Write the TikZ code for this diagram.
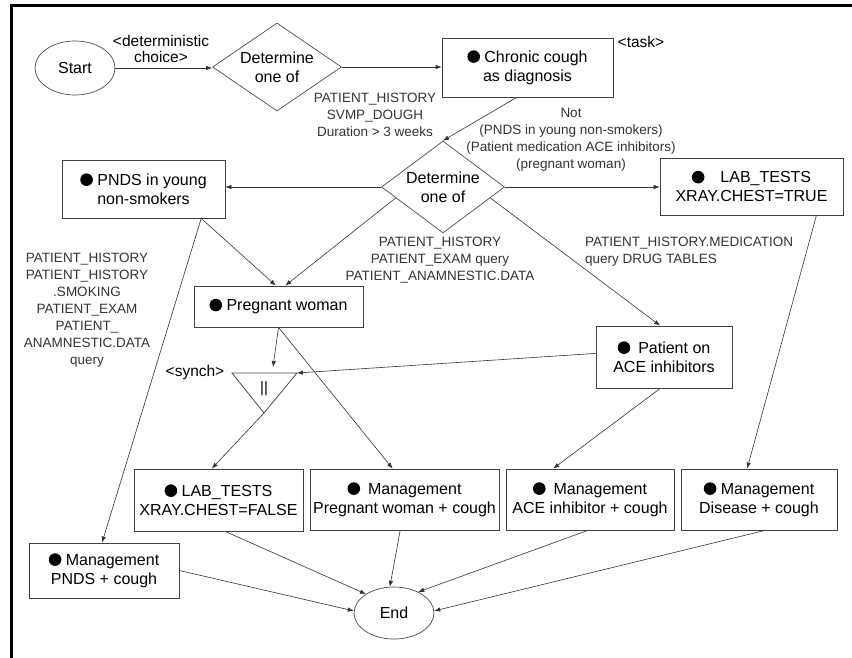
\documentclass[tikz,border=0pt]{standalone}
\usepackage{fontspec}
\setmainfont{Liberation Sans}
\usetikzlibrary{shapes.geometric,arrows.meta}

\newcommand\mainsize{\fontsize{16}{19}\selectfont}
\newcommand\condsize{\fontsize{13.5}{17}\selectfont}
\newcommand\tagsize{\fontsize{15.5}{16}\selectfont}
% filled task bullet
\newcommand\blt{\tikz[baseline=-5.8pt,x=1pt,y=1pt]\fill[black] (0,0) circle[radius=6.3pt];}

\tikzset{
  box/.style={draw=black!75, line width=0.8pt, fill=white, inner sep=0pt, align=center, font=\mainsize},
  oval/.style={ellipse, draw=black!70, line width=0.7pt, inner sep=0pt, font=\mainsize},
  choice/.style={diamond, draw=black!70, line width=0.7pt, inner sep=0pt},
  intext/.style={align=center, font=\mainsize},
  cond/.style={font=\condsize, text=black!80, align=center, inner sep=0pt},
  tag/.style={font=\tagsize, align=center, inner sep=0pt},
  flow/.style={draw=black!80, line width=0.6pt, -{Latex[length=6pt,width=4.5pt]}},
  tri/.style={draw=black!70, line width=0.8pt},
}

\begin{document}
\begin{tikzpicture}[x=1pt,y=-1pt]
\useasboundingbox (0,0) rectangle (852,658);
\fill[white] (0,0) rectangle (852,658);
\draw[line width=3pt, line join=miter] (11,658) -- (11,5.5) -- (852,5.5);

% top row
\node[oval, minimum width=80pt, minimum height=54pt] (start) at (75,68) {Start};
\node[choice, minimum width=129pt, minimum height=88pt,
      label={[intext]center:Determine\\one of}] (d1) at (277,67) {};
\node[box, minimum width=171pt, minimum height=59pt] (cc) at (527.5,67.5) {\blt\ Chronic cough\\as diagnosis};
\node[tag] (tdc) at (161,49) {<deterministic\\choice>};
\node[tag] (ttask) at (641,42) {<task>};

% second decision and its branches
\node[choice, minimum width=123pt, minimum height=92pt,
      label={[intext]center:Determine\\one of}] (d2) at (443,187) {};
\node[box, minimum width=163pt, minimum height=58pt] (pnds) at (143.5,189) {\blt\ PNDS in young\\non-smokers};
\node[box, minimum width=183pt, minimum height=57pt] (labT) at (751.5,186.5) {\blt\quad LAB\_TESTS\\XRAY.CHEST=TRUE};
\node[box, minimum width=169pt, minimum height=41pt] (preg) at (278.5,306.5) {\blt\ Pregnant woman};
\node[box, minimum width=136pt, minimum height=62pt] (ace) at (664,357) {\blt\enspace Patient on\\ACE inhibitors};

% synchronisation bar
\coordinate (syL) at (232,373);
\coordinate (syR) at (297,373);
\coordinate (syB) at (264,413);
\coordinate (syTip) at (273,367);
\draw[tri] (syL) -- (syR) -- (syB) -- cycle;
\node[font=\fontsize{15}{16}\selectfont, inner sep=0pt] (par) at (264,389) {||};
\node[tag] (tsy) at (195,372) {<synch>};

% management row
\node[box, minimum width=169pt, minimum height=62pt] (labF) at (218.5,500) {\blt\ LAB\_TESTS\\XRAY.CHEST=FALSE};
\node[box, minimum width=189pt, minimum height=61pt] (mgPr) at (404.5,499.5) {\blt\enspace Management\\Pregnant woman + cough};
\node[box, minimum width=168pt, minimum height=61pt] (mgA) at (590,499.5) {\blt\enspace Management\\ACE inhibitor + cough};
\node[box, minimum width=156pt, minimum height=61pt] (mgD) at (759,499.5) {\blt\ Management\\Disease + cough};
\node[box, minimum width=150pt, minimum height=55pt] (mgP) at (104,570.5) {\blt\ Management\\PNDS + cough};
\node[oval, minimum width=80pt, minimum height=52pt] (end) at (394,613) {End};

% conditions
\node[cond] (cA) at (375,115) {PATIENT\_HISTORY\\SVMP\_DOUGH\\Duration > 3 weeks};
\node[cond] (cB) at (571,140) {Not\\(PNDS in young non-smokers)\\(Patient medication ACE inhibitors)\\(pregnant woman)};
\node[cond] (cC) at (440,260) {PATIENT\_HISTORY\\PATIENT\_EXAM query\\PATIENT\_ANAMNESTIC.DATA};
\node[cond, anchor=west, align=left] (cD) at (585,251.5) {PATIENT\_HISTORY.MEDICATION\\query DRUG TABLES};
\node[cond] (cE) at (87,310) {PATIENT\_HISTORY\\PATIENT\_HISTORY\\.SMOKING\\PATIENT\_EXAM\\PATIENT\_\\ANAMNESTIC.DATA\\query};

% connectors
\draw[flow] (start.east) -- (start.east -| d1.west);
\draw[flow] (d1.east) -- (d1.east -| cc.west);
\draw[flow] (cc.250) -- (d2.north);
\draw[flow] (d2.west) -- (d2.west -| pnds.east);
\draw[flow] (d2.east) -- (d2.east -| labT.west);
\draw[flow] (pnds.333) -- (preg.97);
\draw[flow] (d2.193) -- (preg.72);
\draw[flow] (d2.347) -- (ace.97);
\draw[flow] (labT.336) -- (mgD.111);
\draw[flow] (pnds.333) -- (mgP.94);
\draw[flow] (preg.south) -- (syTip);
\draw[flow] (preg.south) -- (mgPr.111);
\draw[flow] (ace.177) -- (syR);
\draw[flow] (syB) -- (labF.102);
\draw[flow] (ace.263) -- (mgA.140);
\draw[flow] (mgP.east) -- (end.177);
\draw[flow] (labF.282) -- (end.146);
\draw[flow] (mgPr.262) -- (end.99);
\draw[flow] (mgA.266) -- (end.41);
\draw[flow] (mgD.281) -- (end.3);
\end{tikzpicture}
\end{document}
